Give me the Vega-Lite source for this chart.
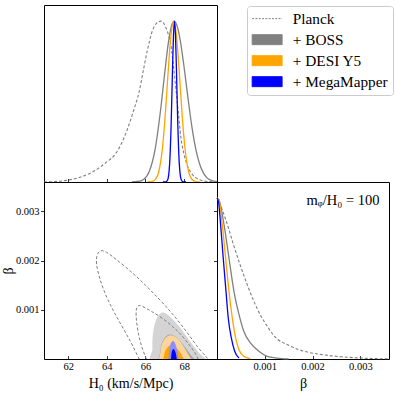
{
  "$schema": "https://vega.github.io/schema/vega-lite/v6.json",
  "autosize": {"type": "pad"},
  "padding": {"left": 0, "top": 4, "right": 5, "bottom": 3},
  "background": "white",
  "config": {
    "view": {"stroke": "#000000", "strokeWidth": 1},
    "axis": {"domain": false, "grid": false, "tickColor": "#000000", "tickWidth": 0.8, "labelFont": "Liberation Serif", "labelFontSize": 10.5, "labelColor": "#000000", "titleFont": "Liberation Serif", "titleFontSize": 14, "titleFontWeight": "normal", "titleColor": "#000000"}
  },
  "datasets": {
    "h0_1d": [
      {"dataset": "Planck", "H0": 60.75, "p": 0},
      {"dataset": "Planck", "H0": 61.3, "p": 0.003},
      {"dataset": "Planck", "H0": 61.9, "p": 0.01},
      {"dataset": "Planck", "H0": 62.4, "p": 0.022},
      {"dataset": "Planck", "H0": 62.75, "p": 0.035},
      {"dataset": "Planck", "H0": 63.2, "p": 0.058},
      {"dataset": "Planck", "H0": 63.6, "p": 0.088},
      {"dataset": "Planck", "H0": 64.0, "p": 0.125},
      {"dataset": "Planck", "H0": 64.45, "p": 0.175},
      {"dataset": "Planck", "H0": 64.8, "p": 0.25},
      {"dataset": "Planck", "H0": 65.1, "p": 0.34},
      {"dataset": "Planck", "H0": 65.4, "p": 0.45},
      {"dataset": "Planck", "H0": 65.67, "p": 0.56},
      {"dataset": "Planck", "H0": 65.9, "p": 0.7},
      {"dataset": "Planck", "H0": 66.1, "p": 0.82},
      {"dataset": "Planck", "H0": 66.36, "p": 0.94},
      {"dataset": "Planck", "H0": 66.6, "p": 0.99},
      {"dataset": "Planck", "H0": 66.82, "p": 1.0},
      {"dataset": "Planck", "H0": 67.05, "p": 0.96},
      {"dataset": "Planck", "H0": 67.2, "p": 0.91},
      {"dataset": "Planck", "H0": 67.31, "p": 0.855},
      {"dataset": "Planck", "H0": 67.45, "p": 0.72},
      {"dataset": "Planck", "H0": 67.57, "p": 0.585},
      {"dataset": "Planck", "H0": 67.7, "p": 0.43},
      {"dataset": "Planck", "H0": 67.83, "p": 0.28},
      {"dataset": "Planck", "H0": 67.96, "p": 0.19},
      {"dataset": "Planck", "H0": 68.09, "p": 0.129},
      {"dataset": "Planck", "H0": 68.25, "p": 0.08},
      {"dataset": "Planck", "H0": 68.43, "p": 0.046},
      {"dataset": "Planck", "H0": 68.6, "p": 0.027},
      {"dataset": "Planck", "H0": 68.78, "p": 0.015},
      {"dataset": "Planck", "H0": 69.1, "p": 0.005},
      {"dataset": "Planck", "H0": 69.7, "p": 0.0},
      {"dataset": "+ BOSS", "H0": 65.3, "p": 0.0004},
      {"dataset": "+ BOSS", "H0": 65.6, "p": 0.003},
      {"dataset": "+ BOSS", "H0": 65.9, "p": 0.016},
      {"dataset": "+ BOSS", "H0": 66.2, "p": 0.067},
      {"dataset": "+ BOSS", "H0": 66.5, "p": 0.205},
      {"dataset": "+ BOSS", "H0": 66.8, "p": 0.466},
      {"dataset": "+ BOSS", "H0": 67.0, "p": 0.683},
      {"dataset": "+ BOSS", "H0": 67.2, "p": 0.878},
      {"dataset": "+ BOSS", "H0": 67.35, "p": 0.972},
      {"dataset": "+ BOSS", "H0": 67.48, "p": 1.0},
      {"dataset": "+ BOSS", "H0": 67.65, "p": 0.964},
      {"dataset": "+ BOSS", "H0": 67.8, "p": 0.879},
      {"dataset": "+ BOSS", "H0": 68.0, "p": 0.711},
      {"dataset": "+ BOSS", "H0": 68.2, "p": 0.521},
      {"dataset": "+ BOSS", "H0": 68.4, "p": 0.344},
      {"dataset": "+ BOSS", "H0": 68.6, "p": 0.206},
      {"dataset": "+ BOSS", "H0": 68.8, "p": 0.112},
      {"dataset": "+ BOSS", "H0": 69.0, "p": 0.055},
      {"dataset": "+ BOSS", "H0": 69.2, "p": 0.024},
      {"dataset": "+ BOSS", "H0": 69.4, "p": 0.01},
      {"dataset": "+ BOSS", "H0": 69.7, "p": 0.002},
      {"dataset": "+ DESI Y5", "H0": 66.1, "p": 0.0},
      {"dataset": "+ DESI Y5", "H0": 66.3, "p": 0.002},
      {"dataset": "+ DESI Y5", "H0": 66.5, "p": 0.015},
      {"dataset": "+ DESI Y5", "H0": 66.7, "p": 0.07},
      {"dataset": "+ DESI Y5", "H0": 66.85, "p": 0.181},
      {"dataset": "+ DESI Y5", "H0": 67.0, "p": 0.378},
      {"dataset": "+ DESI Y5", "H0": 67.15, "p": 0.643},
      {"dataset": "+ DESI Y5", "H0": 67.3, "p": 0.889},
      {"dataset": "+ DESI Y5", "H0": 67.46, "p": 1.0},
      {"dataset": "+ DESI Y5", "H0": 67.6, "p": 0.914},
      {"dataset": "+ DESI Y5", "H0": 67.75, "p": 0.68},
      {"dataset": "+ DESI Y5", "H0": 67.9, "p": 0.411},
      {"dataset": "+ DESI Y5", "H0": 68.05, "p": 0.202},
      {"dataset": "+ DESI Y5", "H0": 68.2, "p": 0.081},
      {"dataset": "+ DESI Y5", "H0": 68.4, "p": 0.017},
      {"dataset": "+ DESI Y5", "H0": 68.6, "p": 0.003},
      {"dataset": "+ DESI Y5", "H0": 68.8, "p": 0.0},
      {"dataset": "+ MegaMapper", "H0": 66.9, "p": 0.0},
      {"dataset": "+ MegaMapper", "H0": 67.05, "p": 0.001},
      {"dataset": "+ MegaMapper", "H0": 67.15, "p": 0.014},
      {"dataset": "+ MegaMapper", "H0": 67.25, "p": 0.114},
      {"dataset": "+ MegaMapper", "H0": 67.33, "p": 0.367},
      {"dataset": "+ MegaMapper", "H0": 67.4, "p": 0.707},
      {"dataset": "+ MegaMapper", "H0": 67.45, "p": 0.917},
      {"dataset": "+ MegaMapper", "H0": 67.5, "p": 1.0},
      {"dataset": "+ MegaMapper", "H0": 67.55, "p": 0.917},
      {"dataset": "+ MegaMapper", "H0": 67.6, "p": 0.707},
      {"dataset": "+ MegaMapper", "H0": 67.67, "p": 0.367},
      {"dataset": "+ MegaMapper", "H0": 67.75, "p": 0.114},
      {"dataset": "+ MegaMapper", "H0": 67.85, "p": 0.014},
      {"dataset": "+ MegaMapper", "H0": 67.95, "p": 0.001},
      {"dataset": "+ MegaMapper", "H0": 68.1, "p": 0.0}
    ],
    "beta_1d": [
      {"dataset": "Planck", "beta": 0, "p": 1.0},
      {"dataset": "Planck", "beta": 0.0001, "p": 0.935},
      {"dataset": "Planck", "beta": 0.000215, "p": 0.837},
      {"dataset": "Planck", "beta": 0.000354, "p": 0.702},
      {"dataset": "Planck", "beta": 0.000492, "p": 0.578},
      {"dataset": "Planck", "beta": 0.00063, "p": 0.464},
      {"dataset": "Planck", "beta": 0.00077, "p": 0.36},
      {"dataset": "Planck", "beta": 0.00091, "p": 0.272},
      {"dataset": "Planck", "beta": 0.00105, "p": 0.204},
      {"dataset": "Planck", "beta": 0.0012, "p": 0.142},
      {"dataset": "Planck", "beta": 0.0015, "p": 0.085},
      {"dataset": "Planck", "beta": 0.0018, "p": 0.05},
      {"dataset": "Planck", "beta": 0.0022, "p": 0.027},
      {"dataset": "Planck", "beta": 0.0026, "p": 0.014},
      {"dataset": "Planck", "beta": 0.003, "p": 0.006},
      {"dataset": "Planck", "beta": 0.0036, "p": 0.001},
      {"dataset": "+ BOSS", "beta": 0, "p": 1.0},
      {"dataset": "+ BOSS", "beta": 0.00004, "p": 0.99},
      {"dataset": "+ BOSS", "beta": 0.000146, "p": 0.837},
      {"dataset": "+ BOSS", "beta": 0.00025, "p": 0.629},
      {"dataset": "+ BOSS", "beta": 0.000354, "p": 0.422},
      {"dataset": "+ BOSS", "beta": 0.00046, "p": 0.277},
      {"dataset": "+ BOSS", "beta": 0.00056, "p": 0.173},
      {"dataset": "+ BOSS", "beta": 0.0007, "p": 0.1},
      {"dataset": "+ BOSS", "beta": 0.000875, "p": 0.048},
      {"dataset": "+ BOSS", "beta": 0.00105, "p": 0.017},
      {"dataset": "+ BOSS", "beta": 0.00126, "p": 0.006},
      {"dataset": "+ BOSS", "beta": 0.0015, "p": 0.001},
      {"dataset": "+ DESI Y5", "beta": 0, "p": 1.0},
      {"dataset": "+ DESI Y5", "beta": 0.00004, "p": 0.99},
      {"dataset": "+ DESI Y5", "beta": 0.00011, "p": 0.837},
      {"dataset": "+ DESI Y5", "beta": 0.00018, "p": 0.629},
      {"dataset": "+ DESI Y5", "beta": 0.00025, "p": 0.422},
      {"dataset": "+ DESI Y5", "beta": 0.00032, "p": 0.256},
      {"dataset": "+ DESI Y5", "beta": 0.00039, "p": 0.131},
      {"dataset": "+ DESI Y5", "beta": 0.00046, "p": 0.058},
      {"dataset": "+ DESI Y5", "beta": 0.00056, "p": 0.017},
      {"dataset": "+ DESI Y5", "beta": 0.0007, "p": 0.002},
      {"dataset": "+ MegaMapper", "beta": 0, "p": 1.0},
      {"dataset": "+ MegaMapper", "beta": 0.00003, "p": 0.98},
      {"dataset": "+ MegaMapper", "beta": 0.000075, "p": 0.837},
      {"dataset": "+ MegaMapper", "beta": 0.00013, "p": 0.629},
      {"dataset": "+ MegaMapper", "beta": 0.000188, "p": 0.422},
      {"dataset": "+ MegaMapper", "beta": 0.000235, "p": 0.256},
      {"dataset": "+ MegaMapper", "beta": 0.0003, "p": 0.131},
      {"dataset": "+ MegaMapper", "beta": 0.00037, "p": 0.048},
      {"dataset": "+ MegaMapper", "beta": 0.00046, "p": 0.006}
    ],
    "contours": [
      {"region": "BOSS95", "i": 0, "H0": 66.42, "beta": -0.0001},
      {"region": "BOSS95", "i": 1, "H0": 66.36, "beta": 0.0002},
      {"region": "BOSS95", "i": 2, "H0": 66.37, "beta": 0.00045},
      {"region": "BOSS95", "i": 3, "H0": 66.46, "beta": 0.00068},
      {"region": "BOSS95", "i": 4, "H0": 66.63, "beta": 0.00086},
      {"region": "BOSS95", "i": 5, "H0": 66.85, "beta": 0.00094},
      {"region": "BOSS95", "i": 6, "H0": 67.07, "beta": 0.00092},
      {"region": "BOSS95", "i": 7, "H0": 67.35, "beta": 0.00083},
      {"region": "BOSS95", "i": 8, "H0": 67.7, "beta": 0.00068},
      {"region": "BOSS95", "i": 9, "H0": 68.05, "beta": 0.0005},
      {"region": "BOSS95", "i": 10, "H0": 68.4, "beta": 0.00031},
      {"region": "BOSS95", "i": 11, "H0": 68.75, "beta": 0.00013},
      {"region": "BOSS95", "i": 12, "H0": 69.1, "beta": -0.0001},
      {"region": "BOSS68", "i": 0, "H0": 66.8, "beta": -0.0001},
      {"region": "BOSS68", "i": 1, "H0": 66.77, "beta": 0.00015},
      {"region": "BOSS68", "i": 2, "H0": 66.85, "beta": 0.00033},
      {"region": "BOSS68", "i": 3, "H0": 67.05, "beta": 0.00046},
      {"region": "BOSS68", "i": 4, "H0": 67.3, "beta": 0.0005},
      {"region": "BOSS68", "i": 5, "H0": 67.6, "beta": 0.00044},
      {"region": "BOSS68", "i": 6, "H0": 67.95, "beta": 0.00029},
      {"region": "BOSS68", "i": 7, "H0": 68.3, "beta": 0.0001},
      {"region": "BOSS68", "i": 8, "H0": 68.55, "beta": -0.0001},
      {"region": "DESI95", "i": 0, "H0": 66.82, "beta": -0.0001},
      {"region": "DESI95", "i": 1, "H0": 66.78, "beta": 0.00015},
      {"region": "DESI95", "i": 2, "H0": 66.86, "beta": 0.00031},
      {"region": "DESI95", "i": 3, "H0": 67.02, "beta": 0.00042},
      {"region": "DESI95", "i": 4, "H0": 67.23, "beta": 0.00048},
      {"region": "DESI95", "i": 5, "H0": 67.46, "beta": 0.00047},
      {"region": "DESI95", "i": 6, "H0": 67.7, "beta": 0.0004},
      {"region": "DESI95", "i": 7, "H0": 67.95, "beta": 0.00027},
      {"region": "DESI95", "i": 8, "H0": 68.17, "beta": 0.00012},
      {"region": "DESI95", "i": 9, "H0": 68.32, "beta": -0.0001},
      {"region": "DESI68", "i": 0, "H0": 67.0, "beta": -0.0001},
      {"region": "DESI68", "i": 1, "H0": 66.98, "beta": 0.0001},
      {"region": "DESI68", "i": 2, "H0": 67.07, "beta": 0.0002},
      {"region": "DESI68", "i": 3, "H0": 67.24, "beta": 0.00027},
      {"region": "DESI68", "i": 4, "H0": 67.45, "beta": 0.00027},
      {"region": "DESI68", "i": 5, "H0": 67.65, "beta": 0.00021},
      {"region": "DESI68", "i": 6, "H0": 67.84, "beta": 0.0001},
      {"region": "DESI68", "i": 7, "H0": 67.98, "beta": -0.0001},
      {"region": "MM95", "i": 0, "H0": 67.23, "beta": -0.0001},
      {"region": "MM95", "i": 1, "H0": 67.22, "beta": 0.00013},
      {"region": "MM95", "i": 2, "H0": 67.27, "beta": 0.00027},
      {"region": "MM95", "i": 3, "H0": 67.36, "beta": 0.00035},
      {"region": "MM95", "i": 4, "H0": 67.46, "beta": 0.00036},
      {"region": "MM95", "i": 5, "H0": 67.56, "beta": 0.00029},
      {"region": "MM95", "i": 6, "H0": 67.64, "beta": 0.00016},
      {"region": "MM95", "i": 7, "H0": 67.71, "beta": -0.0001},
      {"region": "MM68", "i": 0, "H0": 67.34, "beta": -0.0001},
      {"region": "MM68", "i": 1, "H0": 67.34, "beta": 0.00009},
      {"region": "MM68", "i": 2, "H0": 67.39, "beta": 0.00018},
      {"region": "MM68", "i": 3, "H0": 67.47, "beta": 0.0002},
      {"region": "MM68", "i": 4, "H0": 67.54, "beta": 0.00015},
      {"region": "MM68", "i": 5, "H0": 67.59, "beta": 0.00007},
      {"region": "MM68", "i": 6, "H0": 67.62, "beta": -0.0001}
    ],
    "planck_contours": [
      {"region": "P95", "i": 0, "H0": 65.8, "beta": -0.0001},
      {"region": "P95", "i": 1, "H0": 65.35, "beta": 0.00026},
      {"region": "P95", "i": 2, "H0": 64.98, "beta": 0.00053},
      {"region": "P95", "i": 3, "H0": 64.62, "beta": 0.00078},
      {"region": "P95", "i": 4, "H0": 64.29, "beta": 0.00102},
      {"region": "P95", "i": 5, "H0": 63.95, "beta": 0.0013},
      {"region": "P95", "i": 6, "H0": 63.65, "beta": 0.00162},
      {"region": "P95", "i": 7, "H0": 63.47, "beta": 0.00193},
      {"region": "P95", "i": 8, "H0": 63.5, "beta": 0.00211},
      {"region": "P95", "i": 9, "H0": 63.68, "beta": 0.0022},
      {"region": "P95", "i": 10, "H0": 63.98, "beta": 0.00217},
      {"region": "P95", "i": 11, "H0": 64.5, "beta": 0.00202},
      {"region": "P95", "i": 12, "H0": 65.3, "beta": 0.00176},
      {"region": "P95", "i": 13, "H0": 66.0, "beta": 0.0015},
      {"region": "P95", "i": 14, "H0": 66.7, "beta": 0.00122},
      {"region": "P95", "i": 15, "H0": 67.3, "beta": 0.00096},
      {"region": "P95", "i": 16, "H0": 67.8, "beta": 0.00072},
      {"region": "P95", "i": 17, "H0": 68.3, "beta": 0.00046},
      {"region": "P95", "i": 18, "H0": 68.75, "beta": 0.00022},
      {"region": "P95", "i": 19, "H0": 69.15, "beta": 0.00004},
      {"region": "P95", "i": 20, "H0": 69.4, "beta": -0.0001},
      {"region": "P68", "i": 0, "H0": 66.15, "beta": -0.0001},
      {"region": "P68", "i": 1, "H0": 65.85, "beta": 0.0002},
      {"region": "P68", "i": 2, "H0": 65.66, "beta": 0.00047},
      {"region": "P68", "i": 3, "H0": 65.54, "beta": 0.00076},
      {"region": "P68", "i": 4, "H0": 65.52, "beta": 0.00098},
      {"region": "P68", "i": 5, "H0": 65.62, "beta": 0.00108},
      {"region": "P68", "i": 6, "H0": 65.84, "beta": 0.00107},
      {"region": "P68", "i": 7, "H0": 66.3, "beta": 0.00097},
      {"region": "P68", "i": 8, "H0": 66.9, "beta": 0.00082},
      {"region": "P68", "i": 9, "H0": 67.4, "beta": 0.00066},
      {"region": "P68", "i": 10, "H0": 67.8, "beta": 0.00051},
      {"region": "P68", "i": 11, "H0": 68.2, "beta": 0.00032},
      {"region": "P68", "i": 12, "H0": 68.55, "beta": 0.00013},
      {"region": "P68", "i": 13, "H0": 68.85, "beta": -0.0001}
    ]
  },
  "columns": 2,
  "spacing": 0,
  "bounds": "flush",
  "resolve": {"scale": {"color": "independent"}, "legend": {"color": "independent"}},
  "concat": [
    {
      "width": 173,
      "height": 177,
      "data": {"name": "h0_1d"},
      "encoding": {
        "x": {"field": "H0", "type": "quantitative", "scale": {"domain": [60.75, 69.7], "nice": false, "zero": false}, "axis": {"values": [62, 64, 66, 68], "labels": false, "tickSize": -3.5, "title": null}},
        "y": {"field": "p", "type": "quantitative", "scale": {"domain": [0, 1.1], "nice": false}, "axis": null},
        "color": {
          "field": "dataset", "type": "nominal",
          "scale": {"domain": ["Planck", "+ BOSS", "+ DESI Y5", "+ MegaMapper"], "range": ["#808080", "#808080", "#ffa500", "#0000ff"]},
          "legend": {
            "title": null, "orient": "none", "legendX": 203, "legendY": 1, "padding": 5,
            "strokeColor": "#cccccc", "fillColor": "#ffffff", "cornerRadius": 3,
            "labelFont": "Liberation Serif", "labelFontSize": 15.3, "labelColor": "#000000",
            "rowPadding": 5, "symbolSize": 100, "symbolOffset": 7.5, "labelOffset": 18, "symbolStrokeWidth": 1,
            "encode": {"symbols": {"update": {
              "shape": {"signal": "datum.value === 'Planck' ? 'M-3,0H3' : 'M-3,-1H3V1H-3Z'"},
              "fill": {"signal": "datum.value === 'Planck' ? 'transparent' : (datum.value === '+ DESI Y5' ? '#ffa500' : (datum.value === '+ MegaMapper' ? '#0000ff' : '#808080'))"},
              "stroke": {"signal": "datum.value === 'Planck' ? '#808080' : 'transparent'"},
              "strokeDash": {"signal": "datum.value === 'Planck' ? [2, 1.3] : [1, 0]"},
              "strokeWidth": {"value": 1},
              "size": {"value": 100},
              "opacity": {"value": 1}
            }}}
          }
        }
      },
      "layer": [
        {"transform": [{"filter": "datum.dataset === 'Planck'"}], "mark": {"type": "line", "interpolate": "monotone", "strokeDash": [3, 2], "strokeWidth": 1.1}},
        {"transform": [{"filter": "datum.dataset !== 'Planck'"}], "mark": {"type": "line", "interpolate": "monotone", "strokeWidth": 1.3}}
      ]
    },
    {
      "width": 172,
      "height": 177,
      "view": {"stroke": null},
      "data": {"values": []},
      "mark": "point",
      "encoding": {}
    },
    {
      "width": 173,
      "height": 177,
      "encoding": {
        "x": {"field": "H0", "type": "quantitative", "scale": {"domain": [60.75, 69.7], "nice": false, "zero": false}, "axis": {"values": [62, 64, 66, 68], "format": "d", "tickSize": -3.5, "labelPadding": 5.5, "title": "H₀ (km/s/Mpc)", "titlePadding": 5}},
        "y": {"field": "beta", "type": "quantitative", "scale": {"domain": [0, 0.0036], "nice": false}, "axis": {"values": [0.001, 0.002, 0.003], "format": ".3f", "tickSize": 3.5, "labelPadding": 1.5, "title": "β", "titlePadding": 0}},
        "order": {"field": "i", "type": "quantitative"}
      },
      "layer": [
        {
          "data": {"name": "contours"},
          "mark": {"type": "line", "filled": true, "interpolate": "cardinal-closed", "clip": true},
          "encoding": {
            "color": {"field": "region", "type": "nominal", "scale": {"domain": ["BOSS95", "BOSS68", "DESI95", "DESI68", "MM95", "MM68"], "range": ["#d4d4d4", "#a6a6a6", "#fcd59b", "#ffa500", "#8e8eff", "#0000ff"]}, "legend": null}
          }
        },
        {
          "data": {"name": "planck_contours"},
          "mark": {"type": "line", "interpolate": "cardinal", "clip": true, "strokeDash": [3, 2], "color": "#808080", "strokeWidth": 1},
          "encoding": {"detail": {"field": "region", "type": "nominal"}}
        }
      ]
    },
    {
      "width": 172,
      "height": 177,
      "layer": [
        {
          "data": {"name": "beta_1d"},
          "transform": [{"filter": "datum.dataset === 'Planck'"}],
          "mark": {"type": "line", "interpolate": "monotone", "strokeDash": [3, 2], "strokeWidth": 1.1, "color": "#808080"},
          "encoding": {
            "x": {"field": "beta", "type": "quantitative", "scale": {"domain": [0, 0.0036], "nice": false, "zero": false}, "axis": {"values": [0.001, 0.002, 0.003], "format": ".3f", "tickSize": -3.5, "labelPadding": 5.5, "title": "β", "titlePadding": 5}},
            "y": {"field": "p", "type": "quantitative", "scale": {"domain": [0, 1.1], "nice": false}, "axis": {"values": [0.3056, 0.6111, 0.9167], "labels": false, "tickSize": 3.5, "title": null}}
          }
        },
        {
          "data": {"name": "beta_1d"},
          "transform": [{"filter": "datum.dataset !== 'Planck'"}],
          "mark": {"type": "line", "interpolate": "monotone", "strokeWidth": 1.3},
          "encoding": {
            "x": {"field": "beta", "type": "quantitative"},
            "y": {"field": "p", "type": "quantitative"},
            "color": {"field": "dataset", "type": "nominal", "scale": {"domain": ["+ BOSS", "+ DESI Y5", "+ MegaMapper"], "range": ["#808080", "#ffa500", "#0000ff"]}, "legend": null}
          }
        },
        {
          "data": {"values": [{}]},
          "mark": {"type": "text", "align": "right", "baseline": "middle", "font": "Liberation Serif", "fontSize": 14.5, "color": "#000000"},
          "encoding": {
            "x": {"datum": 0.0034, "type": "quantitative"},
            "y": {"datum": 0.985, "type": "quantitative"},
            "text": {"value": "mᵩ/H₀ = 100"}
          }
        }
      ]
    }
  ]
}
